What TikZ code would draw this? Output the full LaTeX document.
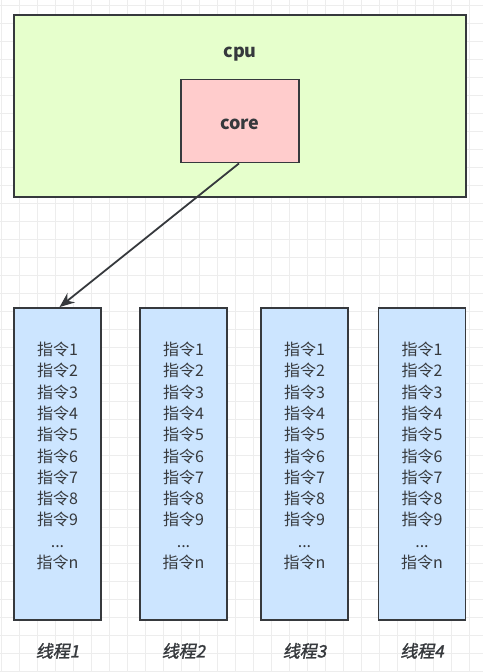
\documentclass[tikz,border=0pt]{standalone}
\usepackage{fontspec}
\setmainfont{Noto Sans CJK SC}
\newfontfamily\threadfont{Noto Sans CJK SC}[FakeSlant=0.2,FakeBold=1.5]
\usetikzlibrary{positioning,arrows.meta}
\definecolor{cpugreen}{HTML}{E6FFCC}
\definecolor{corered}{HTML}{FFCCCC}
\definecolor{threadblue}{HTML}{CCE5FF}
\definecolor{edge}{HTML}{36393D}

\begin{document}
\begin{tikzpicture}[x=1pt,y=-1pt,
  box/.style={rectangle, draw=edge, line width=1.8pt, inner sep=0pt},
  thread/.style={box, fill=threadblue, minimum width=87pt, minimum height=312pt},
  title/.style={font=\bfseries\fontsize{18}{20}\selectfont, text=edge},
  instr/.style={align=center, font=\fontsize{16}{21.3}\selectfont, text=edge},
  tname/.style={font=\threadfont\fontsize{17}{20}\selectfont, text=edge}]
\useasboundingbox (0,0) rectangle (483,672);
\fill [white] (0,0) rectangle (483,672);
% background grid
\foreach \gx in {1.7,19.7,...,483} \draw [black!7, line width=0.6pt] (\gx,0) -- (\gx,672);
\foreach \gy in {5,23,...,672} \draw [black!7, line width=0.6pt] (0,\gy) -- (483,\gy);

\node [box, fill=cpugreen, minimum width=452pt, minimum height=182pt] (cpu) at (240,106) {};
\node [title] (cpulabel) at (240,54) {cpu};
\node [box, fill=corered, minimum width=118pt, minimum height=83pt] (core) at (240,121) {};
\node [title] (corelabel) at (240,124) {core};

\node [thread] (T1) at (57.5,464) {};
\node [thread] (T2) at (183.5,464) {};
\node [thread] (T3) at (304.5,464) {};
\node [thread] (T4) at (422,464) {};

\foreach \t in {1,2,3,4} {
  \node [instr] (I\t) at ([yshift=8pt]T\t.center)
    {指令1\\指令2\\指令3\\指令4\\指令5\\指令6\\指令7\\指令8\\指令9\\...\\指令n};
  \node [tname] (L\t) at ([yshift=-30pt]T\t.south) {线程\t};
}

\coordinate (tip) at ([xshift=2pt]T1.north);
\draw [edge, line width=1.8pt, -{Stealth[length=15pt,width=12pt]}] ([xshift=-1pt]core.south) -- (tip);

\end{tikzpicture}
\end{document}
